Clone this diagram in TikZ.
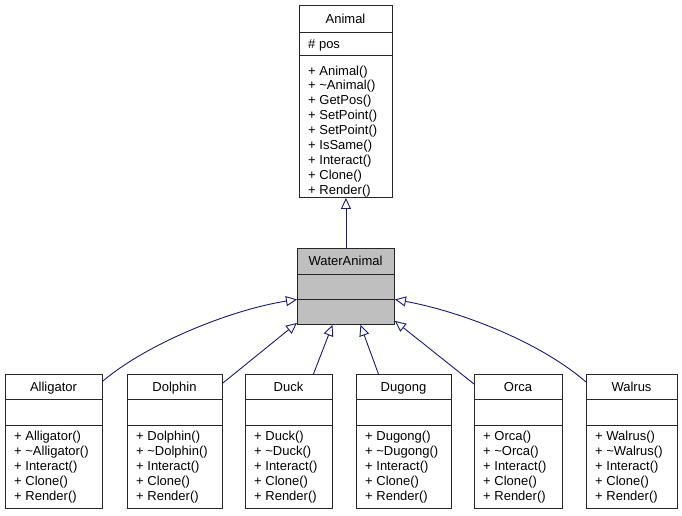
\documentclass[tikz,border=0pt]{standalone}
\usepackage{fontspec}
\setmainfont{Liberation Sans}
\usetikzlibrary{arrows.meta}
\definecolor{edgeblue}{HTML}{191970}
\definecolor{abstractfill}{HTML}{BFBFBF}
\begin{document}
\begin{tikzpicture}[x=1pt,y=-1pt,
  every node/.style={font=\fontsize{13}{15}\selectfont},
  classbox/.style={draw=black!85, line width=0.9pt, fill=white, rectangle,
    inner sep=0pt, anchor=north west},
  abstractbox/.style={classbox, fill=abstractfill},
  divider/.style={draw=black!85, line width=0.9pt},
  member/.style={anchor=base west, inner sep=0pt},
  classtitle/.style={anchor=base, inner sep=0pt},
  inherit/.style={draw=edgeblue, line width=0.9pt,
    -{Triangle[open, length=11pt, width=10pt]}}]
\useasboundingbox (0,0) rectangle (682,515);

% base class
\node[classbox, minimum width=93pt, minimum height=192pt] (Animal) at (299,5) {};
\draw[divider] (299,32) -- (392,32);
\draw[divider] (299,55) -- (392,55);
\node[classtitle] (Animal-title) at (345.5,23) {Animal};
\node[member] (Animal-pos) at (308,48) {\# pos};
\foreach \m [count=\i from 0] in {Animal(), \textasciitilde Animal(), GetPos(),
    SetPoint(), SetPoint(), IsSame(), Interact(), Clone(), Render()}
  \node[member] (Animal-m\i) at (308,75+14.9*\i) {+ \m};

% intermediate abstract class
\node[abstractbox, minimum width=97pt, minimum height=76pt] (WaterAnimal) at (297,248) {};
\draw[divider] (297,274) -- (394,274);
\draw[divider] (297,299) -- (394,299);
\node[classtitle] (WaterAnimal-title) at (345.5,265.6) {WaterAnimal};

% concrete classes
\foreach \nm/\lx/\w in {Alligator/5/97, Dolphin/127/95, Duck/245/87,
    Dugong/356/95, Orca/474/88, Walrus/586/91} {
  \node[classbox, minimum width=\w pt, minimum height=134pt] (\nm) at (\lx,374) {};
  \draw[divider] (\lx,399) -- +(\w,0);
  \draw[divider] (\lx,425) -- +(\w,0);
  \node[classtitle] (\nm-title) at (\lx+\w/2,391) {\nm};
  \foreach \m [count=\i from 0] in {\nm(), \textasciitilde\nm(), Interact(), Clone(), Render()}
    \node[member] (\nm-m\i) at (\lx+9,440+15*\i) {+ \m};
}

% inheritance
\draw[inherit] (WaterAnimal.north) -- (Animal.south);
\draw[inherit] ([yshift=-7pt]Alligator.north east)
  .. controls +(45,-38) and +(-65,10) .. ([yshift=-13pt]WaterAnimal.west);
\draw[inherit] ([yshift=-9pt]Dolphin.north east) -- ([yshift=2pt]WaterAnimal.south west);
\draw[inherit] ([xshift=24.5pt]Duck.north) -- ([xshift=-13.5pt]WaterAnimal.south);
\draw[inherit] ([xshift=-25.5pt]Dugong.north) -- ([xshift=14.5pt]WaterAnimal.south);
\draw[inherit] ([yshift=-10pt]Orca.north west) -- ([yshift=4pt]WaterAnimal.south east);
\draw[inherit] ([yshift=-8pt]Walrus.north west)
  .. controls +(-46,-40) and +(66,12) .. ([yshift=-13pt]WaterAnimal.east);
\end{tikzpicture}
\end{document}
